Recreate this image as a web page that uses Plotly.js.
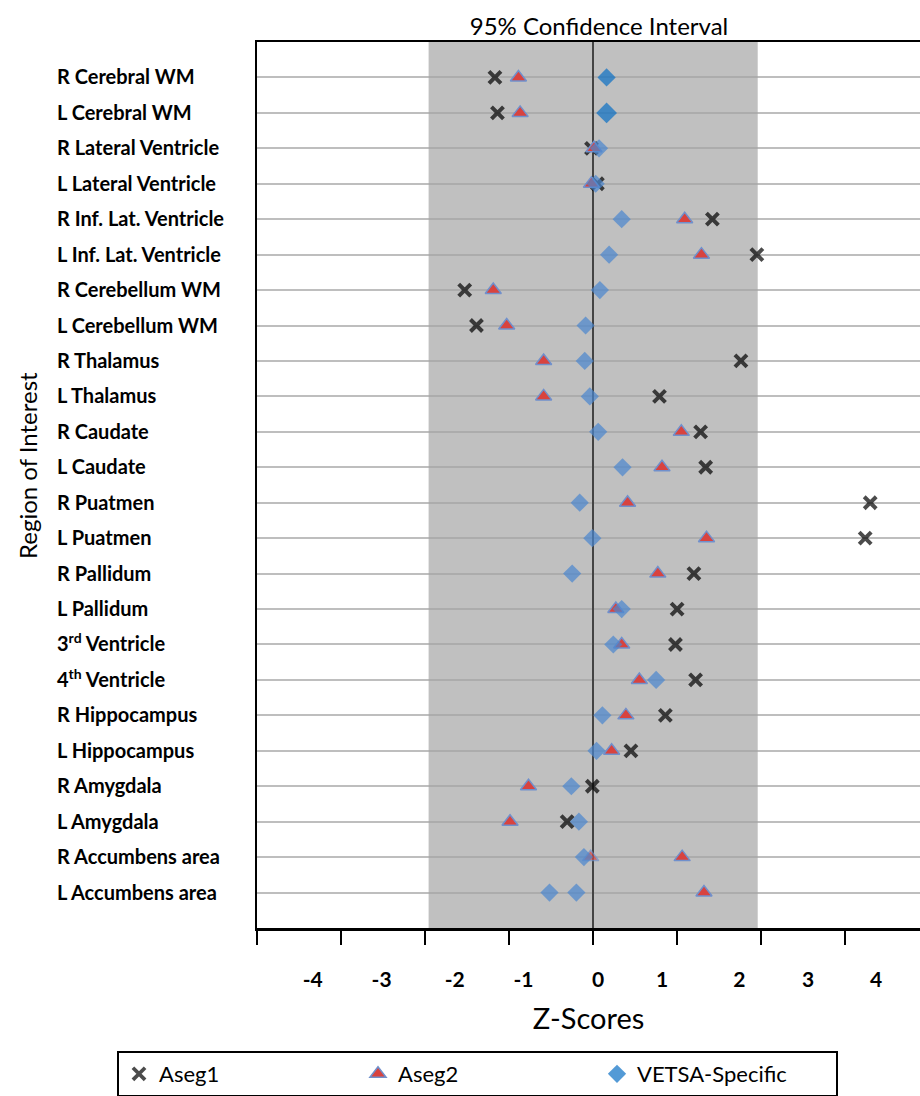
<!DOCTYPE html>
<html>
<head>
<meta charset="utf-8">
<script src="https://cdn.plot.ly/plotly-3.0.1.min.js"></script>
<style>html,body{margin:0;padding:0;background:#fff;}#chart{width:920px;height:1096px;}</style>
</head>
<body>
<div id="chart"></div>
<script>
var regions = ["R Cerebral WM","L Cerebral WM","R Lateral Ventricle","L Lateral Ventricle","R Inf. Lat. Ventricle","L Inf. Lat. Ventricle","R Cerebellum WM","L Cerebellum WM","R Thalamus","L Thalamus","R Caudate","L Caudate","R Puatmen","L Puatmen","R Pallidum","L Pallidum","3<sup>rd</sup> Ventricle","4<sup>th</sup> Ventricle","R Hippocampus","L Hippocampus","R Amygdala","L Amygdala","R Accumbens area","L Accumbens area"];
var aseg1 = [-1.17,-1.14,-0.02,0.05,1.42,1.95,-1.53,-1.39,1.76,0.79,1.28,1.34,3.30,3.24,1.20,1.00,0.98,1.22,0.86,0.45,-0.01,-0.31,-0.03,-0.52];
var aseg2 = [-0.89,-0.87,0.01,-0.02,1.09,1.29,-1.19,-1.03,-0.59,-0.59,1.05,0.82,0.41,1.35,0.77,0.27,0.34,0.55,0.39,0.22,-0.77,-0.99,1.06,1.32];
var vetsa = [0.16,0.16,0.07,0.03,0.34,0.19,0.08,-0.09,-0.10,-0.04,0.06,0.35,-0.16,-0.01,-0.25,0.34,0.24,0.75,0.11,0.04,-0.26,-0.17,-0.11,-0.20];
var xTickLabels = ["-4","-3","-2","-1","0","1","2","3","4"];
var xTickLabelPos = [-3.34,-2.52,-1.65,-0.83,0.06,0.82,1.74,2.56,3.37];
var ciLow = -1.96, ciHigh = 1.96;

var idx = regions.map(function(_, i){ return i; });

// Aseg1 markers: drawn as x, except the two accumbens points which the source drew with other symbols
var aseg1Symbols = aseg1.map(function(_, i){ return i === 22 ? 'triangle-up' : (i === 23 ? 'diamond' : 'x-thin'); });
var aseg1Colors = aseg1.map(function(_, i){ return i === 22 ? '#D8433F' : (i === 23 ? '#4A86CF' : '#000000'); });
var aseg1Sizes = aseg1.map(function(_, i){ return i === 22 ? 14 : (i === 23 ? 14 : 12); });
var aseg1LineColors = aseg1.map(function(_, i){ return i === 22 ? '#7090CC' : (i === 23 ? '#4A86CF' : '#000000'); });
var aseg1LineWidths = aseg1.map(function(_, i){ return i === 22 ? 1.5 : (i === 23 ? 0 : 4); });
var vetsaColors = vetsa.map(function(_, i){ return i < 2 ? '#0A6FC4' : '#4A86CF'; });
var vetsaSizes = vetsa.map(function(_, i){ return i === 1 ? 16 : 14; });

var font = "Lato, 'Open Sans', sans-serif";

var traces = [
  {type:'scatter', mode:'markers', name:'Aseg1', x:aseg1, y:idx, xaxis:'x', yaxis:'y',
   marker:{symbol:aseg1Symbols, size:aseg1Sizes, color:aseg1Colors, line:{color:aseg1LineColors, width:aseg1LineWidths}}},
  {type:'scatter', mode:'markers', name:'Aseg2', x:aseg2, y:idx, xaxis:'x', yaxis:'y',
   marker:{symbol:'triangle-up', size:14, color:'#D8433F', line:{color:'#7090CC', width:1.5}}},
  {type:'scatter', mode:'markers', name:'VETSA-Specific', x:vetsa, y:idx, xaxis:'x', yaxis:'y',
   marker:{symbol:'diamond', size:vetsaSizes, color:vetsaColors, line:{width:0}}}
];

var layout = {
  width:920, height:1096,
  margin:{l:0, r:0, t:42, b:168, pad:0, autoexpand:false},
  paper_bgcolor:'#ffffff', plot_bgcolor:'#ffffff',
  showlegend:true,
  font:{family:font, color:'#000'},
  title:{text:'95% Confidence Interval', x:599/920, xanchor:'center', y:1-27/1096, yanchor:'middle', font:{family:font, size:24, color:'#000'}},
  xaxis:{domain:[257/920, 1], range:[-4.004, 3.893], tick0:0, dtick:1, ticks:'outside', ticklen:14, tickwidth:2, tickcolor:'#000',
         showticklabels:false, showline:true, linecolor:'#000', linewidth:2.5, mirror:true, showgrid:false,
         zeroline:true, zerolinecolor:'#444', zerolinewidth:1.6},
  xaxis2:{overlaying:'x', anchor:'y', side:'bottom', range:[-4.004, 3.893], tickmode:'array', tickvals:xTickLabelPos, ticktext:xTickLabels,
          ticks:'outside', ticklen:33, tickcolor:'rgba(0,0,0,0)', showline:false, showgrid:false, zeroline:false,
          tickfont:{family:font, size:21, color:'#000', weight:'bold'},
          title:{text:'Z-Scores', font:{family:font, size:29, color:'#000'}, standoff:18}},
  yaxis:{domain:[0,1], range:[24, -1], tickmode:'array', tickvals:idx, showticklabels:false, ticks:'',
         showline:true, linecolor:'#000', linewidth:2.5, showgrid:true, gridcolor:'rgba(164,164,164,0.71)', gridwidth:2, zeroline:false},
  yaxis2:{overlaying:'y', anchor:'free', position:53/920, side:'left', range:[24, -1], tickmode:'array', tickvals:idx, ticktext:regions,
          ticklabelposition:'inside', ticks:'', showline:false, showgrid:false, zeroline:false,
          tickfont:{family:font, size:20, color:'#000', weight:'bold'}},
  annotations:[{text:'Region of Interest', xref:'paper', yref:'paper', x:27/920, y:(928-466)/886, xanchor:'center', yanchor:'middle',
                textangle:-90, showarrow:false, font:{family:font, size:24, color:'#000'}}],
  shapes:[{type:'rect', xref:'x', yref:'paper', x0:ciLow, x1:ciHigh, y0:0, y1:1, fillcolor:'#C0C0C0', line:{width:0}, layer:'below'}],
  legend:{orientation:'h', x:117/920, xanchor:'left', y:-(1051-928)/886, yanchor:'top', bordercolor:'#000', borderwidth:2,
          font:{family:font, size:22, color:'#000'}, entrywidth:194, entrywidthmode:'pixels', itemclick:false, bgcolor:'#fff'}
};

// a dummy trace so yaxis2 and xaxis2 are drawn
traces.push({type:'scatter', mode:'markers', x:[0], y:[0], xaxis:'x2', yaxis:'y2', showlegend:false, hoverinfo:'skip', marker:{opacity:0}});

Plotly.newPlot('chart', traces, layout, {staticPlot:true, displayModeBar:false});
</script>
</body>
</html>
